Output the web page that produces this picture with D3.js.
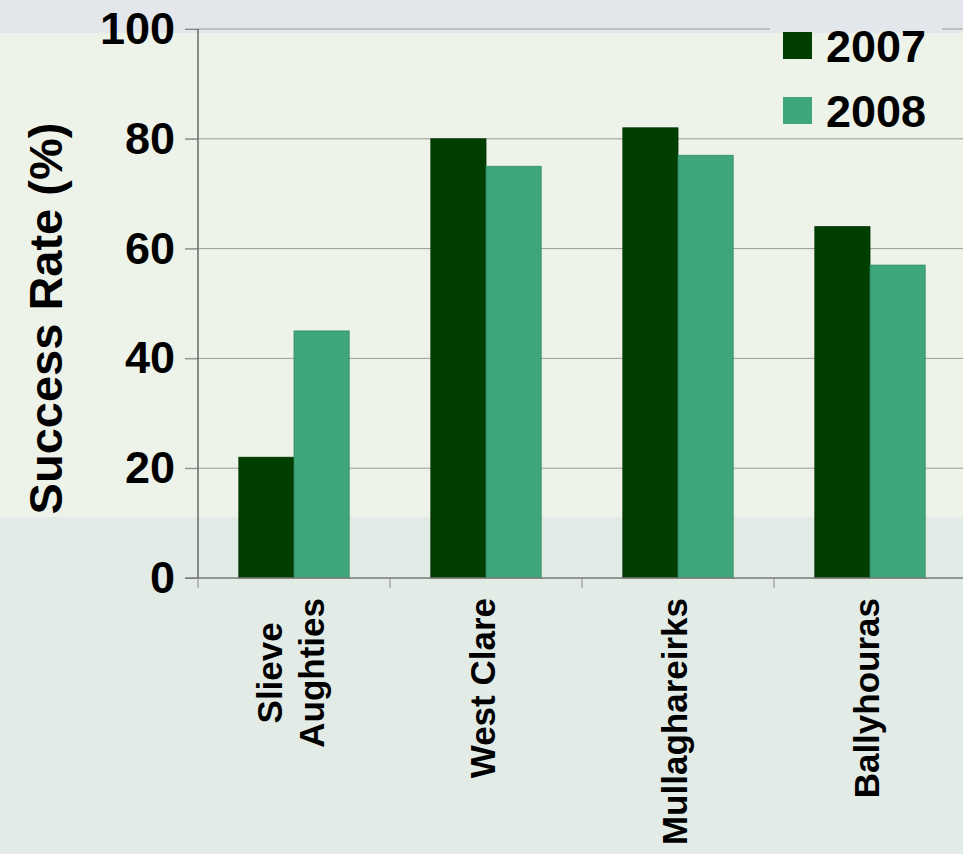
<!DOCTYPE html>
<meta charset="utf-8">
<script src="https://d3js.org/d3.v7.min.js"></script>
<style type="text/css">
body { margin: 0; }
svg { display: block; font-family: "Liberation Sans", Arial, sans-serif; font-weight: bold; }
.grid line { stroke: #9a9a9a; stroke-width: 1; }
.yaxis text { font-size: 45px; fill: #000; }
.xlab { font-size: 35px; fill: #000; }
.legend text { font-size: 45px; fill: #000; }
</style>
<body>
<div id="canvas"></div>
<script>

	// categorias e valores
	var regions = [["Slieve", "Aughties"], ["West Clare"], ["Mullaghareirks"], ["Ballyhouras"]];
	var years = ["2007", "2008"];
	var rate2007 = [22, 80, 82, 64];
	var rate2008 = [45, 75, 77, 57];
	var yTicks = [0, 20, 40, 60, 80, 100];
	var colors = ["#003f00", "#3ea67a"];

	var width = 963;
	var height = 854;
	var margin = {top: 29, left: 198, bottom: 276};

	var svg = d3.select('#canvas')
		.append("svg")
		.attr('width', width)
		.attr('height', height);

	// fundo em faixas ---------------------------------------------
	svg.append("rect").attr("x", 0).attr("y", 0).attr("width", width).attr("height", height).style("fill", "#e2ebe5");
	svg.append("rect").attr("x", 0).attr("y", 0).attr("width", width).attr("height", 517).style("fill", "#eef3ea");
	svg.append("rect").attr("x", 0).attr("y", 0).attr("width", width).attr("height", 33).style("fill", "#e3e6ea");

	var keys = regions.map(function(d) { return d.join(" "); });

	var x = d3.scaleBand()
		.domain(keys)
		.range([margin.left, margin.left + 4 * 192]);

	var x1 = d3.scaleBand()
		.domain(years)
		.range([0, x.bandwidth()])
		.paddingOuter(0.74);

	var y = d3.scaleLinear()
		.domain([0, 100])
		.range([height - margin.bottom, margin.top]);

	// grade -------------------------------------------------------
	svg.append("g")
		.attr("class", "grid")
		.selectAll("line")
		.data(yTicks.filter(function(d) { return d > 0; }))
		.enter().append("line")
		.attr("x1", margin.left - 13)
		.attr("x2", width)
		.attr("y1", function(d) { return y(d); })
		.attr("y2", function(d) { return y(d); });

	// eixo Y ------------------------------------------------------
	var yAxis = d3.axisLeft(y)
		.tickValues(yTicks)
		.tickSize(13)
		.tickPadding(10);

	var gy = svg.append("g")
		.attr("class", "yaxis")
		.attr("transform", "translate(" + margin.left + ",0)")
		.call(yAxis);
	gy.select(".domain").remove();
	gy.selectAll(".tick line").style("stroke", "#8a8a8a");

	svg.append("line")
		.attr("x1", margin.left).attr("x2", margin.left)
		.attr("y1", y(100)).attr("y2", y(0))
		.style("stroke", "#6a6a6a").style("stroke-width", 1.5);

	// barras ------------------------------------------------------
	var series = [rate2007, rate2008];
	series.forEach(function(vals, s) {
		svg.append("g")
			.selectAll("rect")
			.data(vals)
			.enter().append("rect")
			.attr("x", function(d, i) { return x(keys[i]) + x1(years[s]); })
			.attr("width", x1.bandwidth())
			.attr("y", function(d) { return y(d); })
			.attr("height", function(d) { return y(0) - y(d); })
			.style("fill", colors[s])
			.style("stroke", s == 0 ? "#003000" : "#2f8c63")
			.style("stroke-width", 0.8);
	});

	// eixo X ------------------------------------------------------
	svg.append("line")
		.attr("x1", margin.left - 13).attr("x2", width)
		.attr("y1", y(0)).attr("y2", y(0))
		.style("stroke", "#7a7a7a").style("stroke-width", 1.5);

	svg.append("g")
		.selectAll("line")
		.data(keys)
		.enter().append("line")
		.attr("x1", function(d) { return x(d); })
		.attr("x2", function(d) { return x(d); })
		.attr("y1", y(0))
		.attr("y2", y(0) + 10)
		.style("stroke", "#8a8a8a");

	// rotulos das categorias (girados) ----------------------------
	var lineH = 42;
	regions.forEach(function(lines, i) {
		var cx = x(keys[i]) + x.bandwidth() / 2;
		var g = svg.append("g");
		var texts = lines.map(function(t, j) {
			return g.append("text")
				.attr("class", "xlab")
				.attr("text-anchor", "middle")
				.text(t);
		});
		var maxLen = d3.max(texts, function(t) { return t.node().getComputedTextLength(); });
		var cy = y(0) + 20 + maxLen / 2;
		texts.forEach(function(t, j) {
			var bx = cx + 9 + (j - (lines.length - 1) / 2) * lineH;
			t.attr("transform", "translate(" + bx + "," + cy + ") rotate(-90)");
		});
	});

	// titulo do eixo Y -------------------------------------------
	svg.append("text")
		.attr("transform", "translate(62," + ((y(0) + y(100)) / 2 + 15) + ") rotate(-90)")
		.attr("text-anchor", "middle")
		.style("font-size", "47px")
		.text("Success Rate (%)");

	// legenda -----------------------------------------------------
	svg.append("rect")
		.attr("x", 770).attr("y", 25).attr("width", 172).attr("height", 8)
		.style("fill", "#e3e6ea");

	var leg = svg.append("g")
		.attr("class", "legend")
		.selectAll("g")
		.data(years)
		.enter().append("g")
		.attr("transform", function(d, i) { return "translate(783," + (32 + i * 65) + ")"; });

	leg.append("rect")
		.attr("width", 29)
		.attr("height", 27)
		.style("fill", function(d, i) { return colors[i]; });

	leg.append("text")
		.attr("x", 43)
		.attr("y", 30)
		.text(function(d) { return d; });
</script>
</body>
